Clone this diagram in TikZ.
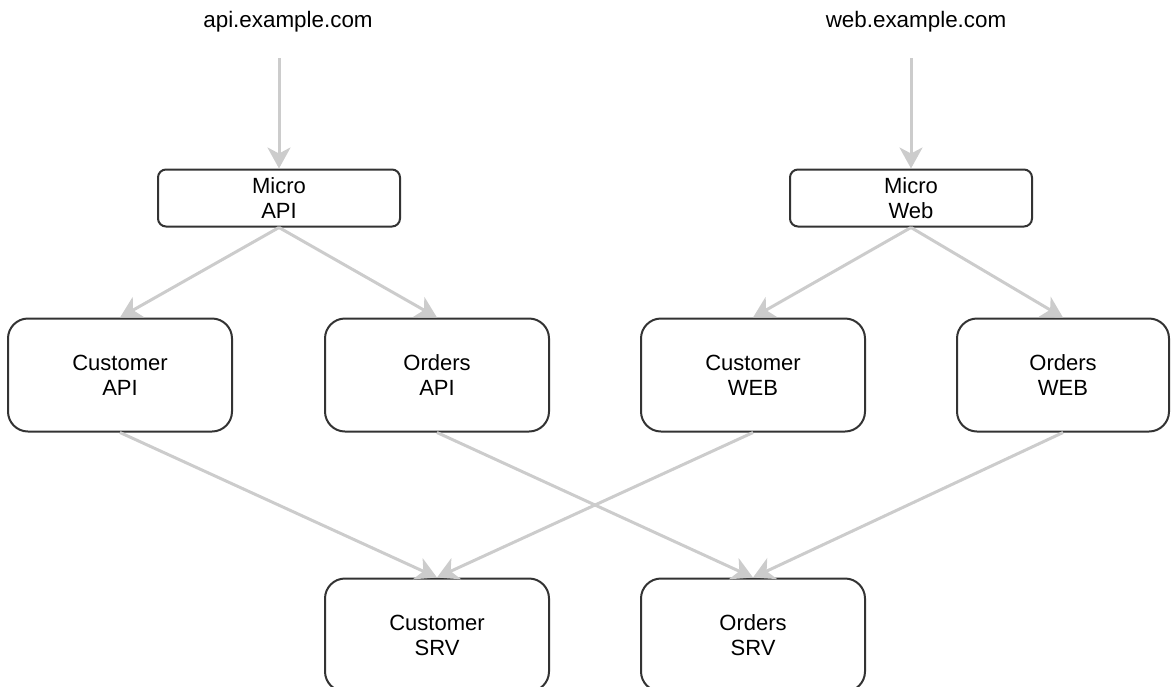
\documentclass[tikz,border=0pt]{standalone}
\usepackage{fontspec}
\setmainfont{Liberation Sans}
\usetikzlibrary{arrows.meta}

\definecolor{gristrait}{HTML}{CCCCCC}
\definecolor{gribord}{HTML}{333333}

\tikzset{boite/.style = {draw = gribord, line width = 1pt, rounded corners = #1,
                         align = center, font = \fontsize{11}{12.5}\selectfont,
                         inner sep = 0pt},
         boite/.default = 10pt,
         grande/.style = {boite, minimum width = 112pt, minimum height = 56.5pt},
         petite/.style = {boite = 4pt, minimum width = 121pt, minimum height = 28.5pt},
         fleche/.style = {draw = gristrait, line width = 1.5pt,
                          -{Stealth[length = 10.5pt, width = 11.5pt, inset = 3pt]}},
         domaine/.style = {font = \fontsize{11.2}{13}\selectfont}
        }

\begin{document}
\begin{tikzpicture}[x = 0.5pt, y = -0.5pt]
  \useasboundingbox (0,0) rectangle (1171,686);

  % domaines
  \node[domaine] (api) at (288,22) {api.example.com};
  \node[domaine] (web) at (916,22) {web.example.com};
  \coordinate (apiin) at (279,58);
  \coordinate (webin) at (911,58);

  % passerelles
  \node[petite] (microapi) at (279,198) {Micro\\API};
  \node[petite] (microweb) at (911,198) {Micro\\Web};

  % services
  \node[grande] (custapi) at (120,375) {Customer\\API};
  \node[grande] (ordapi)  at (437,375) {Orders\\API};
  \node[grande] (custweb) at (753,375) {Customer\\WEB};
  \node[grande, minimum width = 106pt] (ordweb) at (1063,375) {Orders\\WEB};
  \node[grande] (custsrv) at (437,635) {Customer\\SRV};
  \node[grande] (ordsrv)  at (753,635) {Orders\\SRV};

  % fleches
  \draw[fleche] (apiin) -- (microapi);
  \draw[fleche] (webin) -- (microweb);
  \draw[fleche] (microapi.south) -- (custapi.north);
  \draw[fleche] (microapi.south) -- (ordapi.north);
  \draw[fleche] (microweb.south) -- (custweb.north);
  \draw[fleche] (microweb.south) -- (ordweb.north);
  \draw[fleche] (custapi.south) -- (custsrv.north);
  \draw[fleche] (custweb.south) -- (custsrv.north);
  \draw[fleche] (ordapi.south) -- (ordsrv.north);
  \draw[fleche] (ordweb.south) -- (ordsrv.north);
\end{tikzpicture}
\end{document}
